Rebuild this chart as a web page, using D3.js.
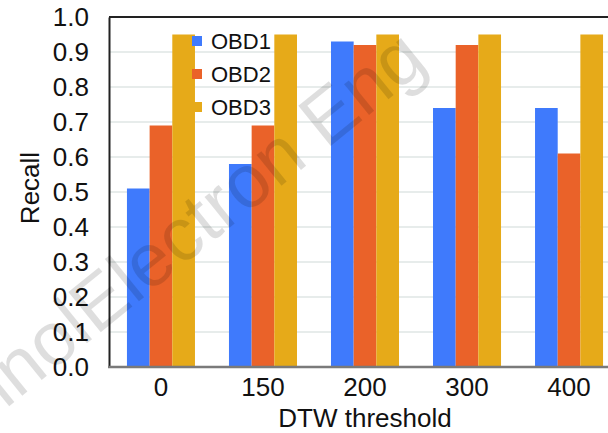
<!DOCTYPE html>
<html>
<head>
<meta charset="utf-8">
<script src="https://cdn.jsdelivr.net/npm/d3@7"></script>
<style>
  body { margin: 0; background: #fff; }
  text { font-family: "Liberation Sans", Arial, sans-serif; fill: #111; }
</style>
</head>
<body>
<div id="chart"></div>
<script>
// data
var thresholds = ["0", "150", "200", "300", "400"];
var seriesNames = ["OBD1", "OBD2", "OBD3"];
var obd1 = [0.51, 0.58, 0.93, 0.74, 0.74];
var obd2 = [0.69, 0.69, 0.92, 0.92, 0.61];
var obd3 = [0.95, 0.95, 0.95, 0.95, 0.95];
var yTicks = [0, 0.1, 0.2, 0.3, 0.4, 0.5, 0.6, 0.7, 0.8, 0.9, 1.0];

var seriesValues = [obd1, obd2, obd3];
var colors = ["#3f7afc", "#ea6229", "#e6aa19"];

var W = 608, H = 433;
var margin = {top: 17, left: 109, bottom: 66};

var svg = d3.select("#chart").append("svg")
	.attr("width", W)
	.attr("height", H);

// scales (plot runs off the right edge like the original)
var x0 = d3.scaleBand()
	.domain(thresholds)
	.range([margin.left, 621])
	.paddingInner(1/3)
	.paddingOuter(0.176);

var x1 = d3.scaleBand()
	.domain(seriesNames)
	.range([0, x0.bandwidth()]);

var y = d3.scaleLinear()
	.domain([0, 1])
	.range([H - margin.bottom, margin.top]);

// gridlines
svg.append("g")
	.selectAll("line")
	.data(yTicks.slice(1, -1))
	.enter().append("line")
	.attr("x1", margin.left)
	.attr("x2", W)
	.attr("y1", function(d) { return y(d); })
	.attr("y2", function(d) { return y(d); })
	.style("stroke", "#dfe6e4")
	.style("stroke-width", 1.5);

// bars
var rows = thresholds.map(function(t, i) {
	return seriesNames.map(function(s, j) {
		return {t: t, s: s, v: seriesValues[j][i], c: colors[j]};
	});
});

svg.append("g")
	.selectAll("g")
	.data(rows)
	.enter().append("g")
	.attr("transform", function(d) { return "translate(" + x0(d[0].t) + ",0)"; })
	.selectAll("rect")
	.data(function(d) { return d; })
	.enter().append("rect")
	.attr("x", function(d) { return x1(d.s); })
	.attr("y", function(d) { return y(d.v); })
	.attr("width", x1.bandwidth())
	.attr("height", function(d) { return y(0) - y(d.v); })
	.style("fill", function(d) { return d.c; });

// frame
svg.append("line")
	.attr("x1", margin.left).attr("x2", W)
	.attr("y1", y(1)).attr("y2", y(1))
	.style("stroke", "#222").style("stroke-width", 2);

// y axis
var yAxis = d3.axisLeft(y)
	.tickValues(yTicks)
	.tickFormat(d3.format(".1f"))
	.tickSize(0)
	.tickPadding(20);

var gy = svg.append("g")
	.attr("transform", "translate(" + margin.left + ",0)")
	.call(yAxis);
gy.select(".domain").style("stroke", "#222").style("stroke-width", 2);
gy.selectAll("text").style("font-size", "26px").style("fill", "#111")
	.style("font-family", "'Liberation Sans', Arial, sans-serif");

// x axis
var xAxis = d3.axisBottom(x0)
	.tickSize(0)
	.tickPadding(11);

var gx = svg.append("g")
	.attr("transform", "translate(0," + y(0) + ")")
	.call(xAxis);
gx.select(".domain").attr("d", "M" + (margin.left - 1) + ",0H" + W)
	.style("stroke", "#7a7a7a").style("stroke-width", 2.5);
gx.selectAll("text").style("font-size", "26px").style("fill", "#111")
	.style("font-family", "'Liberation Sans', Arial, sans-serif");

// axis titles
svg.append("text")
	.attr("x", 365)
	.attr("y", 427)
	.style("text-anchor", "middle")
	.style("font-size", "26px")
	.text("DTW threshold");

svg.append("text")
	.attr("transform", "translate(39,188) rotate(-90)")
	.style("text-anchor", "middle")
	.style("font-size", "26px")
	.text("Recall");

// legend
var legend = svg.append("g")
	.selectAll("g")
	.data(seriesNames)
	.enter().append("g")
	.attr("transform", function(d, i) { return "translate(192," + (41 + i * 33) + ")"; });

legend.append("rect")
	.attr("x", 0)
	.attr("y", -5)
	.attr("width", 10)
	.attr("height", 10)
	.style("fill", function(d, i) { return colors[i]; });

legend.append("text")
	.attr("x", 19)
	.attr("y", 0)
	.attr("dy", "0.36em")
	.style("font-size", "22px")
	.text(function(d) { return d; });

// watermark
var wm = svg.append("g")
	.attr("transform", "translate(96,336) rotate(-39)")
	.style("pointer-events", "none");
wm.append("text")
	.style("font-size", "75px")
	.style("fill", "rgba(0,0,0,0.13)")
	.style("text-anchor", "end")
	.text("Front Inform Technol ");
wm.append("text")
	.style("font-size", "75px")
	.style("fill", "rgba(0,0,0,0.13)")
	.text("Electron Eng");
</script>
</body>
</html>
